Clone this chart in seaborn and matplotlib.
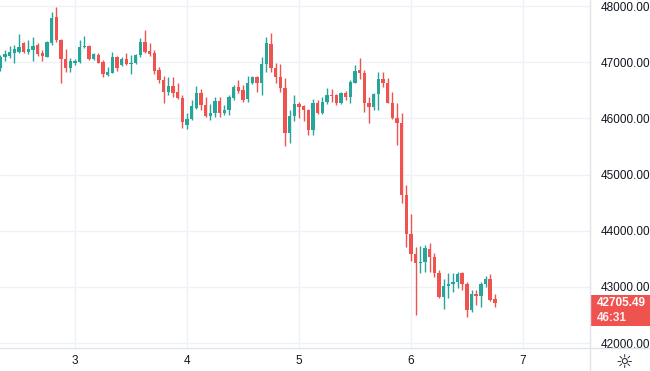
import pandas as pd
import matplotlib.pyplot as plt
import matplotlib.transforms as mtransforms
from matplotlib.patches import Rectangle
from matplotlib.lines import Line2D
import seaborn as sns

# hourly candles, hour 0 = start of day 3
hours = list(range(-16, 91))

opens = [46891, 47087, 47110, 47158, 47187, 47348, 47176, 47217, 47306, 47158, 47098, 47348, 47799, 47395, 47051, 46891,
         46991, 46998, 47265, 47294, 47051, 47128, 47009, 46772, 46813, 47098, 46950, 47051, 46968, 46980, 47128, 47365,
         47205, 47158, 46861, 46683, 46475, 46576, 46475, 46357,
         45882, 45983, 46179, 46446, 46238, 46048, 46090, 46309, 46090, 46149, 46357, 46553, 46505, 46345, 46624, 46730,
         46624, 46968, 47324, 46891, 46742, 46535, 45734, 46042,
         46256, 46220, 46149, 45793, 46280, 46090, 46297, 46416, 46416, 46280, 46446, 46386, 46636, 46861, 46813, 46268,
         46208, 46434, 46695, 46624, 46280, 46001, 45917, 44636,
         43942, 43586, 43425, 43443, 43675, 43532, 43247, 42820, 43016, 43052, 43087, 43247, 43052, 42589, 42874, 42838,
         43052, 43141, 42785]
highs = [47128, 47217, 47294, 47306, 47496, 47365, 47395, 47443, 47336, 47217, 47383, 47899, 47988, 47407, 47229, 47069,
         47051, 47395, 47472, 47306, 47158, 47158, 47039, 46920, 47187, 47110, 47098, 47158, 47128, 47146, 47425, 47573,
         47348, 47217, 46920, 46754, 46730, 46742, 46636, 46416,
         46090, 46327, 46576, 46517, 46386, 46256, 46386, 46386, 46238, 46416, 46594, 46683, 46594, 46754, 46754, 46754,
         47098, 47454, 47514, 46980, 46968, 46713, 46149, 46416,
         46297, 46238, 46161, 46339, 46327, 46386, 46535, 46517, 46434, 46469, 46493, 46683, 46950, 47069, 46861, 46386,
         46446, 46831, 46831, 46713, 46475, 46268, 46095, 44814,
         44298, 43710, 43728, 43746, 43781, 43603, 43301, 43141, 43247, 43247, 43265, 43265, 43087, 42945, 42945, 43087,
         43194, 43230, 42874]
lows = [46849, 47027, 47069, 46992, 47169, 47158, 47146, 47027, 47110, 47027, 47087, 47306, 47365, 46636, 46831, 46831,
        46950, 46980, 47247, 47039, 47039, 46980, 46730, 46754, 46802, 46849, 46932, 46950, 46790, 46968, 47098, 47158,
        47110, 46790, 46636, 46280, 46416, 46387, 46339, 45823,
        45805, 45971, 46161, 46149, 46030, 45971, 46019, 46030, 46060, 46060, 46327, 46446, 46297, 46297, 46612, 46475,
        46416, 46831, 46831, 46624, 46475, 45514, 45568, 45959,
        46001, 45959, 45704, 45704, 46078, 46078, 46256, 46297, 46238, 46256, 46327, 46280, 46624, 46695, 46119, 45912,
        46149, 46149, 46553, 46268, 45983, 45526, 44493, 43710,
        43461, 42500, 43247, 43265, 43265, 43176, 42802, 42607, 42802, 42909, 42980, 42945, 42464, 42553, 42678, 42642,
        42998, 42749, 42642]
closes = [47087, 47146, 47187, 47235, 47270, 47187, 47229, 47288, 47140, 47110, 47365, 47781, 47395, 47051, 46891, 47021,
          47027, 47276, 47294, 47051, 47146, 46991, 46790, 46831, 47087, 46891, 47051, 46968, 46991, 47128, 47365, 47187,
          47140, 46849, 46683, 46475, 46576, 46446, 46357, 45941,
          45983, 46220, 46446, 46238, 46042, 46090, 46309, 46090, 46149, 46386, 46564, 46493, 46327, 46624, 46730, 46624,
          46968, 47348, 46891, 46742, 46535, 45734, 46042, 46256,
          46197, 46149, 45793, 46280, 46090, 46297, 46416, 46398, 46280, 46446, 46386, 46653, 46849, 46802, 46268, 46208,
          46434, 46695, 46624, 46280, 46001, 45912, 44636, 43942,
          43586, 43425, 43443, 43692, 43532, 43247, 42820, 43016, 43052, 43087, 43230, 43052, 42589, 42874, 42838, 43052,
          43141, 42767, 42705.49]

day_ticks = [0, 24, 48, 72, 96]
day_labels = ['3', '4', '5', '6', '7']
price_ticks = [42000, 43000, 44000, 45000, 46000, 47000, 48000]
countdown = '46:31'

df = pd.DataFrame({'hour': hours, 'open': opens, 'high': highs, 'low': lows, 'close': closes})
df['up'] = df['close'] >= df['open']

GREEN = '#26a69a'
RED = '#ef5350'
TEXT = '#131722'
GRID = '#eef1f7'
BORDER = '#e0e3eb'

sns.set_style('white')
plt.rcParams['font.family'] = ['Liberation Sans', 'DejaVu Sans']

fig = plt.figure(figsize=(6.5, 3.71), dpi=100)
W, H = 650, 371
ax = fig.add_axes([0, 23 / H, 590 / W, 348 / H])

colors = [GREEN if u else RED for u in df['up']]
ax.vlines(df['hour'], df['low'], df['high'], colors=colors, linewidth=1, zorder=2)
body_lo = df[['open', 'close']].min(axis=1)
body_h = (df['close'] - df['open']).abs().clip(lower=18)
ax.bar(df['hour'], body_h, bottom=body_lo, width=0.72, color=colors, linewidth=0, zorder=3)

ax.set_xlim(-16.07, 110.4)
ax.set_ylim(41912, 48107)
ax.set_xticks(day_ticks)
ax.set_xticklabels(day_labels)
ax.set_yticks(price_ticks)
ax.set_yticklabels([f'{p:.2f}' for p in price_ticks])
ax.yaxis.tick_right()
ax.tick_params(axis='both', length=0, colors=TEXT, labelsize=8.5)
ax.tick_params(axis='y', pad=8)
ax.tick_params(axis='x', pad=5)
ax.grid(True, color=GRID, linewidth=1)
sns.despine(ax=ax, left=True, top=True, right=True, bottom=True)

# axis separators
fig.add_artist(Line2D([590 / W, 590 / W], [0, 1], color=BORDER, linewidth=1, transform=fig.transFigure))
fig.add_artist(Line2D([0, 1], [23 / H, 23 / H], color=BORDER, linewidth=1, transform=fig.transFigure))

# last price tag
last = closes[-1]
px = 17.8  # price units per pixel
tr = mtransforms.blended_transform_factory(fig.transFigure, ax.transData)
fig.add_artist(Rectangle((590 / W, last - 23 * px), 60 / W, 31 * px, transform=tr,
                         facecolor=RED, edgecolor='none', clip_on=False))
fig.text(597 / W, last, f'{last:.2f}', transform=tr, color='white', fontsize=8.5,
         fontweight='bold', va='center', ha='left')
fig.text(597 / W, last - 15 * px, countdown, transform=tr, color='white', fontsize=8.5,
         fontweight='bold', va='center', ha='left', alpha=0.9)

# settings icon
fig.text(624 / W, 1 - 362 / H, '\u263c', color=TEXT, fontsize=14, ha='center', va='center',
         family=['DejaVu Sans'])

plt.savefig('out.png', dpi=100)
